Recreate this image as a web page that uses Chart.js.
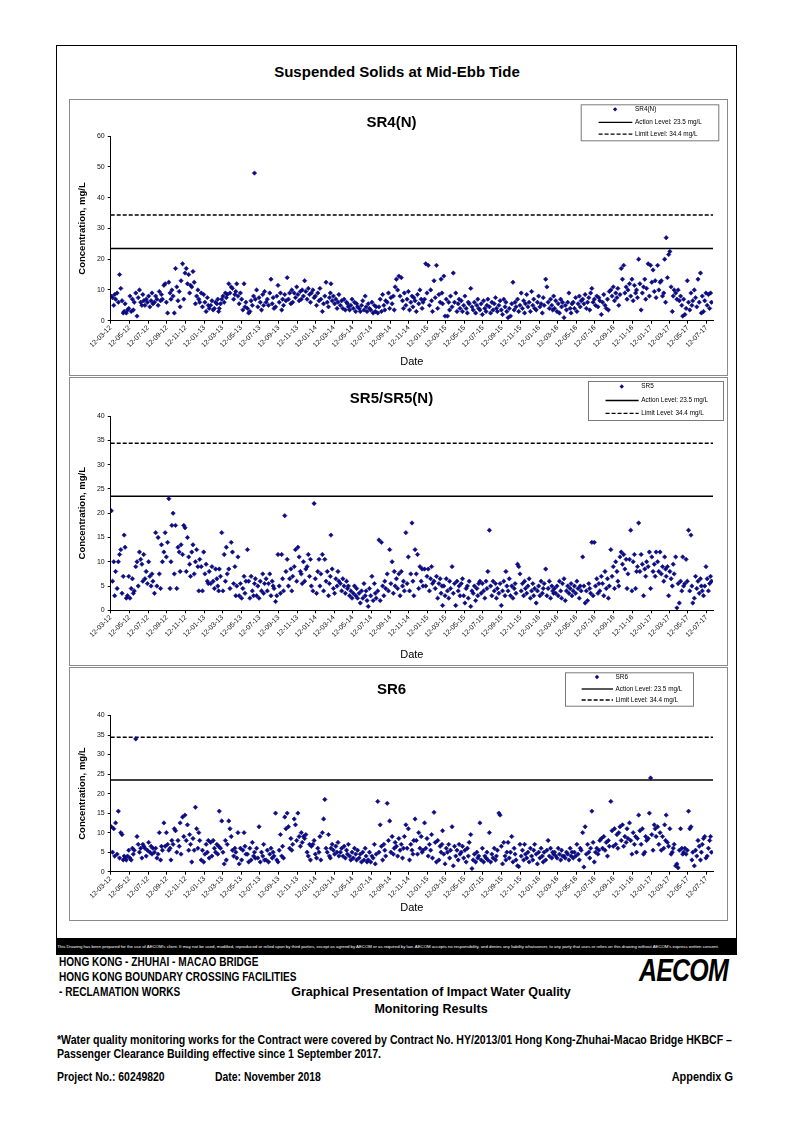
<!DOCTYPE html>
<html>
<head>
<meta charset="utf-8">
<script src="https://cdn.jsdelivr.net/npm/chart.js@4.4.0/dist/chart.umd.min.js"></script>
<style>
  body { margin: 0; background: #fff; }
  #page { position: relative; width: 794px; height: 1123px; font-family: "Liberation Sans", Arial, sans-serif; color: #000; overflow: hidden; }
  .abs { position: absolute; white-space: nowrap; }
  #frame { position: absolute; left: 56px; top: 44.5px; width: 680.5px; height: 910px; border: 1.5px solid #000; box-sizing: border-box; }
  .box { position: absolute; left: 69px; width: 659px; border: 1px solid #8a8a8a; box-sizing: border-box; background: #fff; }
  .box canvas { display: block; }
  /* condensed bold lettering of the title block */
  .narrow { font-weight: bold; font-size: 12px; line-height: 14px; transform: scaleX(0.84); transform-origin: left center; }
  #band { position: absolute; left: 56px; top: 937.5px; width: 680.5px; height: 17px; background: #000; color: #fff; font-size: 4.3px; line-height: 17px; overflow: hidden; white-space: nowrap; }
</style>
</head>
<body>
<div id="page">
  <div id="frame"></div>
  <div class="abs" style="left:0;width:794px;text-align:center;top:63px;font-size:15px;line-height:18px;font-weight:bold">Suspended Solids at Mid-Ebb Tide</div>

  <div class="box" style="top:99px;height:277px"><canvas id="chartSR4" width="657" height="275"></canvas></div>
  <div class="box" style="top:377px;height:289px"><canvas id="chartSR5" width="657" height="287"></canvas></div>
  <div class="box" style="top:667px;height:254px"><canvas id="chartSR6" width="657" height="252"></canvas></div>

  <div id="band">&nbsp;This Drawing has been prepared for the use of AECOM's client. It may not be used, modified, reproduced or relied upon by third parties, except as agreed by AECOM or as required by law. AECOM accepts no responsibility, and denies any liability whatsoever, to any party that uses or relies on this drawing without AECOM's express written consent.</div>

  <div class="abs narrow" style="left:59px;top:955px">HONG KONG - ZHUHAI - MACAO BRIDGE</div>
  <div class="abs narrow" style="left:59px;top:970px">HONG KONG BOUNDARY CROSSING FACILITIES</div>
  <div class="abs narrow" style="left:59px;top:985px">- RECLAMATION WORKS</div>
  <div class="abs" style="left:231px;width:400px;text-align:center;top:985px;font-size:12.5px;line-height:15px;font-weight:bold">Graphical Presentation of Impact Water Quality</div>
  <div class="abs" style="left:231px;width:400px;text-align:center;top:1001.5px;font-size:12.5px;line-height:15px;font-weight:bold">Monitoring Results</div>
  <div class="abs" style="left:639px;top:954px;font-size:32px;line-height:32px;font-weight:bold;font-style:italic;transform:scaleX(0.78);transform-origin:left top;letter-spacing:-1px">AECOM</div>

  <div class="abs narrow" style="left:57px;top:1032.5px;font-size:12.6px">*Water quality monitoring works for the Contract were covered by Contract No. HY/2013/01 Hong Kong-Zhuhai-Macao Bridge HKBCF –</div>
  <div class="abs narrow" style="left:57px;top:1047px;font-size:12.6px">Passenger Clearance Building effective since 1 September 2017.</div>

  <div class="abs narrow" style="left:57px;top:1070px;font-size:12.4px">Project No.: 60249820</div>
  <div class="abs narrow" style="left:215px;top:1070px;font-size:12.4px">Date: November 2018</div>
  <div class="abs narrow" style="right:61px;top:1070px;font-size:13px;transform-origin:right center">Appendix G</div>
</div>

<script>
// sampling months (one row of values per month in the station arrays below)
const months = [
  '2012-03', '2012-04', '2012-05', '2012-06', '2012-07', '2012-08', '2012-09', '2012-10', '2012-11', '2012-12',
  '2013-01', '2013-02', '2013-03', '2013-04', '2013-05', '2013-06', '2013-07', '2013-08', '2013-09', '2013-10', '2013-11', '2013-12',
  '2014-01', '2014-02', '2014-03', '2014-04', '2014-05', '2014-06', '2014-07', '2014-08', '2014-09', '2014-10', '2014-11', '2014-12',
  '2015-01', '2015-02', '2015-03', '2015-04', '2015-05', '2015-06', '2015-07', '2015-08', '2015-09', '2015-10', '2015-11', '2015-12',
  '2016-01', '2016-02', '2016-03', '2016-04', '2016-05', '2016-06', '2016-07', '2016-08', '2016-09', '2016-10', '2016-11', '2016-12',
  '2017-01', '2017-02', '2017-03', '2017-04', '2017-05', '2017-06', '2017-07'
];
// day of month of each sample within a row
const sampleDays = [2, 6, 10, 14, 18, 22, 25, 28];

const tickLabels = [
  '12-03-12', '12-05-12', '12-07-12', '12-09-12', '12-11-12', '12-01-13', '12-03-13', '12-05-13', '12-07-13',
  '12-09-13', '12-11-13', '12-01-14', '12-03-14', '12-05-14', '12-07-14', '12-09-14', '12-11-14', '12-01-15',
  '12-03-15', '12-05-15', '12-07-15', '12-09-15', '12-11-15', '12-01-16', '12-03-16', '12-05-16', '12-07-16',
  '12-09-16', '12-11-16', '12-01-17', '12-03-17', '12-05-17', '12-07-17'
];
const axisEndLabel = '02-08-17';

const actionLevel = 23.5;
const limitLevel = 34.4;

const sr4n = [
  [null, null, null, 8, 7.5, 5, 8.5, 7],
  [9, 6, 15, 10.5, 6.5, 2.5, 3, 5.5],
  [2.5, 3.5, 4, 8, 3, 7, 3.5, 6],
  [9, 1.5, 7.5, 10, 6, 5, 8.5, 6.5],
  [5, 7, 6, 8, 4.5, 6.5, 9, 5.5],
  [6, 8, 7, 5, 9.5, 6.5, 8.5, 7],
  [11.5, 12, 6, 2.5, 12.5, 9, 7, 10],
  [8, 2.5, 17, 11, 6.5, 9.5, 4.5, 13],
  [18.5, 7, 15.5, 17, 12, 15, 9, 11.5],
  [11, 16, 12.5, 5.5, 8, 10, 7, 6],
  [9, 4.5, 8.5, 6, 3, 7.5, 5, 4],
  [5, 6.5, 3.5, 4, 6, 5.5, 7, 3],
  [4, 5.5, 7, 8, 6, 9, 7.5, 8.5],
  [12, 9, 11, 10.5, 7, 8.5, 9.5, 12],
  [8, 5.5, 9, 7, 3.5, 12, 4.5, 6],
  [4, 2.5, 3, 6.5, 5, 8, 48, 7],
  [10, 4.5, 7.5, 6, 3.5, 8.5, 5, 9.5],
  [6, 7, 5, 9, 13.5, 5.5, 7.5, 4],
  [4.5, 8, 11.5, 6, 9, 3.5, 7, 5],
  [8.5, 6.5, 14, 7, 9, 5.5, 10, 6],
  [9, 7.5, 11, 8.5, 6.5, 9.5, 7, 10],
  [8, 13, 9.5, 7, 10.5, 8.5, 6, 9],
  [10, 7.5, 8, 5, 9, 6.5, 10.5, 7],
  [3, 5.5, 8, 12.5, 6, 4.5, 7.5, 9],
  [12, 6.5, 8, 5.5, 7, 4, 6, 8.5],
  [5, 6.5, 4, 7, 3.5, 6, 5.5, 4.5],
  [3.5, 5, 7, 4, 6, 3, 5.5, 4.5],
  [4, 3, 5, 6.5, 3.5, 8, 4.5, 3],
  [5.5, 4, 3.5, 6, 2.5, 5, 3, 4.5],
  [2.5, 4.5, 7, 3, 8.5, 5, 3.5, 6.5],
  [6, 9, 4, 7.5, 5.5, 8, 3.5, 11],
  [13.5, 10, 14.5, 8, 14, 6.5, 4, 9],
  [5, 7, 9.5, 3.5, 6, 8, 4.5, 7.5],
  [6.5, 3, 8.5, 5.5, 10, 7, 4, 6],
  [7, 18.5, 9, 18, 5, 10, 6.5, 3],
  [13, 7.5, 18, 4, 8.5, 6, 13.5, 9],
  [5.5, 14.5, 1.5, 7, 1.5, 6, 3.5, 8],
  [4.5, 15.5, 6, 9, 3, 5.5, 7, 4],
  [6.5, 3, 5, 8, 4, 2.5, 6, 5.5],
  [10.5, 4.5, 3.5, 6, 2.5, 5, 7, 4],
  [3.5, 5.5, 2, 6.5, 4, 3, 5, 7],
  [4.5, 2.5, 6, 3.5, 5.5, 7.5, 4, 3],
  [5, 6.5, 3.5, 2, 7, 4.5, 6, 3],
  [1, 4, 1.5, 5.5, 12.5, 3.5, 6, 4.5],
  [7, 3, 5, 9, 4, 6.5, 2.5, 5.5],
  [8.5, 4.5, 6, 3, 9.5, 5, 7, 4],
  [3.5, 6, 8, 4.5, 5.5, 2.5, 7.5, 5],
  [13.5, 11, 6, 4, 7, 5, 3.5, 8],
  [4, 6.5, 3, 5.5, 2.5, 7, 4.5, 6],
  [1, 5, 3.5, 6, 9, 4, 2.5, 5.5],
  [6, 4, 7.5, 3, 5.5, 8, 4.5, 6.5],
  [7, 5.5, 8.5, 4, 6, 7.5, 3.5, 9],
  [10.5, 6, 7, 5, 8, 4.5, 7.5, 6.5],
  [2, 6, 8.5, 5, 4, 7, 3.5, 9.5],
  [10, 8, 11, 6.5, 9, 7.5, 10.5, 5],
  [8.5, 17, 13.5, 18, 9, 11, 7, 10],
  [12, 8, 13.5, 6.5, 11.5, 9, 10, 7.5],
  [20, 12, 3.5, 9, 11, 13.5, 7, 10.5],
  [18.5, 8, 18, 12.5, 16.5, 9.5, 13, 7.5],
  [18, 10, 12.5, 13, 8, 9, 20, 6],
  [27, 14, 21.5, 22.5, 11, 3, 8, 10],
  [9, 7, 10, 6.5, 8, 5, 1.5, 7],
  [2, 4, 13, 6, 3.5, 9, 5, 6.5],
  [10, 7.5, 4.5, 13.5, 6, 15.5, 2.5, 8],
  [3, 6.5, 9, 5, 8.5, 4, 9, 6]
];

const sr5 = [
  [null, null, null, 20.5, 6, 10, 3, 8],
  [4.5, 10, 11.5, 12.5, 3.5, 7, 15.5, 13],
  [2.5, 3, 7, 2.5, 4.5, 6.5, 3.5, 4],
  [9, 10, 5, 12, 10.5, 9.5, 6, 11.5],
  [6.5, 8, 5.5, 10, 7, 5, 7.5, 6],
  [3.5, 16, 5, 15, 7.5, 4.5, 13.5, 10],
  [12, 16, 11, 14, 23, 4.5, 10, 17.5],
  [20, 7.5, 17.5, 4.5, 13, 12, 8, 13.5],
  [11.5, 17.5, 17, 8, 15, 11, 9.5, 7],
  [12, 13.5, 7.5, 10, 12.5, 9, 4, 10.5],
  [9, 4, 12, 7.5, 9.5, 6, 5.5, 8],
  [5.5, 9, 6, 4.5, 8.5, 6.5, 5, 4],
  [8.5, 7, 16, 4, 11.5, 6, 13, 7.5],
  [8.5, 4.5, 14, 12, 5.5, 9, 3, 5],
  [11, 3, 5.5, 2.5, 4.5, 7, 3.5, 6],
  [12.5, 6, 2.5, 7, 4, 3, 5.5, 6.5],
  [3, 5, 2.5, 6, 4, 7.5, 3.5, 5.5],
  [6.5, 4, 5.5, 7.5, 3, 6, 5, 4.5],
  [1.8, 3, 11.5, 5, 3.5, 11.5, 6.5, 4],
  [19.5, 8, 10.5, 5, 6.5, 8.5, 4, 7],
  [9, 12.5, 6, 13, 11, 8, 7.5, 5.5],
  [10, 6, 8.5, 9, 11.5, 7, 10.5, 5],
  [4, 22, 6.5, 3.5, 8, 10.5, 5, 7.5],
  [11.5, 4, 10.5, 6, 8, 3, 5.5, 7],
  [15.5, 8.5, 4.5, 3.5, 6.5, 5, 8, 6],
  [5.5, 4, 6.5, 5, 3.5, 6, 4.5, 5],
  [3, 4, 2.5, 3.5, 5, 3, 4.5, 2.5],
  [3.5, 1.5, 4, 2.5, 5.5, 3, 4, 2],
  [0.8, 4.5, 3, 7, 2, 5.5, 3.5, 2.5],
  [4, 14.5, 2, 14, 5, 3, 6, 4.5],
  [7.5, 4, 12.5, 5.5, 10, 3.5, 8, 5],
  [6.5, 4.5, 7.5, 3, 8, 5, 6, 4],
  [16, 5.5, 11, 4, 7.5, 18, 6, 3],
  [12.5, 7.5, 11.5, 4.5, 9, 6, 8.5, 5],
  [8.5, 5, 7, 8.5, 4, 6.5, 9, 5.5],
  [6, 4.5, 7, 2.5, 5.5, 6.5, 3.5, 5],
  [1, 5, 3, 6.5, 4, 2.5, 6, 4.5],
  [9, 3.5, 5.5, 1, 6, 4, 5, 3],
  [5.5, 6.5, 3, 1.5, 4.5, 5, 2.5, 6],
  [0.8, 4, 3.5, 5, 2, 4.5, 3, 5.5],
  [6, 3.5, 5.5, 4, 2.5, 6, 4.5, 8],
  [16.5, 5, 3, 6, 4, 5.5, 2.5, 4.5],
  [3.5, 5.5, 1, 4, 6, 3, 8, 5],
  [4, 6.5, 3, 5, 2.5, 4.5, 5.5, 3.5],
  [9.5, 9, 7.5, 4, 5.5, 3, 6, 4.5],
  [3.5, 5, 6.5, 2.5, 4, 5.5, 3, 4.5],
  [1.5, 4, 5, 3, 6, 3.5, 4.5, 5.5],
  [8.5, 3, 4.5, 6, 2.5, 5, 4, 3.5],
  [4.5, 3.5, 5, 3, 6, 4, 2.5, 5.5],
  [6.5, 2, 4, 5, 3.5, 4.5, 5.5, 3],
  [4, 5, 3.5, 6, 4.5, 2.5, 5, 4],
  [11, 5, 1.5, 4, 2, 5.5, 4.5, 3.5],
  [14, 3, 14, 5, 6.5, 3.5, 5.5, 4],
  [7, 5.5, 3, 8, 4.5, 6.5, 2.5, 5],
  [12.5, 7, 9, 4.5, 10, 8, 6, 5],
  [11, 12, 9.5, 11.5, 8.5, 10.5, 4.5, 7.5],
  [10.5, 16.5, 4, 10, 11.5, 4.5, 8, 9],
  [18, 8, 11.5, 9.5, 3, 8.5, 7, 10],
  [9, 12, 4.5, 11, 8, 9.5, 7, 12],
  [10, 8, 12, 7.5, 9, 6, 11, 8.5],
  [7, 9, 3, 8, 6.5, 5, 9.5, 7.5],
  [11, 0.5, 5.5, 1.5, 6, 4, 11, 5],
  [5.5, 10.5, 6, 16.5, 4, 15.5, 5, 1.5],
  [2.5, 7, 4.5, 6, 3.5, 6.5, 5, 4],
  [3, 5, 9, 6.5, 4, 5.5, 7, 6]
];

const sr6 = [
  [null, null, null, 11.5, 5, 11, 4, 12.5],
  [4.5, 15.5, 3.5, 10, 9.5, 3, 4, 3.5],
  [3, 4, 5.5, 3.5, 3, 6, 4.5, 5.5],
  [34, 9, 7, 5, 6, 3.5, 7, 6.5],
  [6, 4, 5.5, 7.5, 5, 6.5, 4.5, 6],
  [5, 6, 3.5, 4.5, 10, 3, 6.5, 5.5],
  [12.5, 6.5, 10, 7, 5.5, 6, 3, 8],
  [7, 11, 10.5, 5, 8, 6.5, 12.5, 4.5],
  [14, 9, 14.5, 8, 12, 5.5, 9.5, 7],
  [2.5, 8.5, 5.5, 16.5, 11, 6, 10, 8],
  [3, 5.5, 2.5, 4.5, 7, 5, 8, 3.5],
  [7.5, 4, 8, 6, 5, 7, 4.5, 6.5],
  [15.5, 6, 13, 5, 2, 8, 3, 7],
  [13, 11, 9, 5.5, 4, 6, 5, 3.5],
  [10, 2, 6, 3, 5.5, 10, 6.5, 4.5],
  [4.5, 2.5, 6, 3, 7.5, 4, 5, 3.5],
  [6, 3.5, 11.5, 2.5, 5, 4, 7, 3],
  [3, 5.5, 2.5, 4.5, 6, 3.5, 5, 4],
  [15, 3, 2.5, 5.5, 9.5, 4, 6.5, 3.5],
  [14, 11, 15, 11.5, 6, 8.5, 5.5, 7],
  [13.5, 12, 8, 15, 9, 6.5, 10, 7.5],
  [9, 8.5, 9.5, 5, 4, 7, 3, 6.5],
  [7, 8, 4.5, 3.5, 6, 5, 9, 3],
  [10, 13.5, 18.5, 6, 5, 9.5, 4, 3.5],
  [6, 7, 5.5, 4.5, 6.5, 5, 7.5, 4],
  [5, 6, 4, 6.5, 3.5, 5.5, 4.5, 7],
  [4, 3, 5, 3.5, 6, 4.5, 3, 5.5],
  [3.5, 4.5, 2.5, 5, 3, 6, 4, 2.5],
  [3, 5, 2.5, 4, 3.5, 7, 2, 4.5],
  [18, 5, 12, 6.5, 3, 7, 5.5, 4],
  [17.5, 8, 13, 5, 9, 4.5, 6, 7.5],
  [6.5, 4, 8.5, 5.5, 7, 3.5, 6, 9],
  [12, 6, 11, 3, 7, 5.5, 4.5, 8],
  [13.5, 8, 4.5, 10, 6, 9, 5, 5.5],
  [12.5, 6, 8.5, 4, 7, 5.5, 9.5, 3.5],
  [15.2, 7.5, 2.5, 8, 3, 6.5, 5, 7],
  [10.5, 4.5, 2, 6, 5, 7, 3.5, 5.5],
  [11.5, 1.5, 6.5, 4, 5.5, 3, 7, 4.5],
  [5, 6.5, 3.5, 5.5, 2.5, 6, 4, 7.5],
  [9.5, 0.8, 3, 4.5, 2.5, 5, 3.5, 4],
  [12.5, 3, 6, 2.5, 4, 3.5, 5, 3],
  [10, 2.5, 4.5, 3.5, 6, 3, 4, 5.5],
  [15, 14.5, 6.5, 2, 7.5, 4, 3, 5],
  [7.5, 3.5, 5, 9, 2.5, 6, 4.5, 3],
  [1.5, 1.3, 7, 4, 5.5, 3, 7, 4.5],
  [3.5, 5, 2.5, 6, 4, 3, 5.5, 7],
  [4.5, 2, 5, 3.5, 6, 4, 2.5, 5],
  [3, 5.5, 8, 4, 6, 3.5, 5, 4.5],
  [5, 4, 3.5, 6, 4.5, 3, 5.5, 4],
  [4, 3.5, 5, 4.5, 3, 6, 4, 5],
  [3.5, 5, 4, 7, 4.5, 3, 6, 5.5],
  [10, 1.2, 11.5, 4.5, 7, 5, 3.5, 6],
  [15.5, 7.5, 2.5, 5, 6, 4.5, 5.5, 8],
  [8.5, 6, 9, 5.5, 7.5, 4, 8, 6.5],
  [18, 10.5, 6.5, 11, 7, 9.5, 6, 10],
  [11.5, 8, 12, 6.5, 9, 7.5, 11, 8.5],
  [12.5, 8, 4.5, 10, 7, 9, 5, 8.5],
  [14.5, 10.5, 7, 11, 4.5, 5, 9, 8],
  [8.5, 15, 24, 9.5, 5.5, 12, 11, 9],
  [11.5, 7, 10, 5.5, 9, 6, 12, 8],
  [14.5, 7.5, 6.5, 11, 4.5, 5, 6, 7],
  [1.5, 2, 1, 5.5, 11, 6, 4.5, 5],
  [6, 4.5, 5.5, 15.5, 11, 11.5, 3, 5],
  [1.5, 5.5, 4, 8, 6.5, 3, 5, 7],
  [8.5, 9, 3.5, 4, 6, 8, 9, 5]
];

const DAY = 86400000;
const navy = '#0c0c82';
Chart.defaults.font.family = '"Liberation Sans", Arial, sans-serif';
Chart.defaults.color = '#000';

function dayOf(y, m, d) {
  return Date.UTC(y, m - 1, d) / DAY;
}

function labelDay(label) {
  const [d, m, y] = label.split('-').map(Number);
  return dayOf(2000 + y, m, d);
}

function toPoints(rows) {
  const pts = [];
  rows.forEach((row, i) => {
    const [y, m] = months[i].split('-').map(Number);
    row.forEach((v, j) => {
      if (v !== null) pts.push({ x: dayOf(y, m, sampleDays[j]), y: v });
    });
  });
  return pts;
}

// legend in a bordered box at the top right, like the spreadsheet original
const boxLegend = {
  id: 'boxLegend',
  afterDraw(chart, args, opts) {
    const ctx = chart.ctx;
    const { x, y, w, h } = opts;
    ctx.save();
    ctx.fillStyle = '#fff';
    ctx.fillRect(x, y, w, h);
    ctx.strokeStyle = '#7a7a7a';
    ctx.lineWidth = 1;
    ctx.strokeRect(x + 0.5, y + 0.5, w, h);
    const rowY = [0.14, 0.5, 0.83].map(f => y + f * h);
    ctx.font = '6.4px "Liberation Sans", Arial, sans-serif';
    ctx.textBaseline = 'middle';
    chart.data.datasets.forEach((ds, i) => {
      const ry = rowY[i];
      if (!ds.showLine) {
        const cx = x + 0.25 * w, r = 2.2;
        ctx.fillStyle = navy;
        ctx.beginPath();
        ctx.moveTo(cx, ry - r); ctx.lineTo(cx + r, ry); ctx.lineTo(cx, ry + r); ctx.lineTo(cx - r, ry);
        ctx.closePath();
        ctx.fill();
      } else {
        ctx.strokeStyle = '#000';
        ctx.lineWidth = 1.3;
        ctx.setLineDash(ds.borderDash || []);
        ctx.beginPath();
        ctx.moveTo(x + 0.13 * w, ry); ctx.lineTo(x + 0.375 * w, ry);
        ctx.stroke();
        ctx.setLineDash([]);
      }
      ctx.fillStyle = '#000';
      ctx.fillText(ds.label, x + 0.395 * w, ry);
    });
    ctx.restore();
  }
};

function drawStationChart(canvasId, station, rows, cfg) {
  const xMin = labelDay(tickLabels[0]);
  const xMax = labelDay(axisEndLabel);
  const ctx = document.getElementById(canvasId).getContext('2d');
  return new Chart(ctx, {
    type: 'scatter',
    plugins: [boxLegend],
    data: {
      datasets: [
        { label: station, data: toPoints(rows), showLine: false, pointStyle: 'rectRot', pointRadius: 2.2, pointBorderWidth: 0.6,
          backgroundColor: navy, borderColor: navy },
        { label: 'Action Level: ' + actionLevel + ' mg/L', data: [{ x: xMin, y: actionLevel }, { x: xMax, y: actionLevel }],
          showLine: true, borderColor: '#000', borderWidth: 1.5, pointRadius: 0 },
        { label: 'Limit Level: ' + limitLevel + ' mg/L', data: [{ x: xMin, y: limitLevel }, { x: xMax, y: limitLevel }],
          showLine: true, borderColor: '#000', borderWidth: 1.5, borderDash: [4, 2], pointRadius: 0 }
      ]
    },
    options: {
      responsive: false,
      animation: false,
      layout: { padding: { left: 0, right: 14, top: 0, bottom: 0 } },
      plugins: {
        legend: { display: false },
        tooltip: { enabled: false },
        title: { display: true, text: cfg.title, color: '#000', font: { size: 15, weight: 'bold' },
          padding: { top: cfg.titleTop, bottom: cfg.titleBottom } },
        boxLegend: cfg.legend
      },
      scales: {
        x: {
          type: 'linear', min: xMin, max: xMax,
          afterBuildTicks: scale => { scale.ticks = tickLabels.map(l => ({ value: labelDay(l) })); },
          afterFit: scale => { scale.height = cfg.xHeight; },
          ticks: { autoSkip: false, minRotation: 45, maxRotation: 45, padding: 0, color: '#111', font: { size: 7 },
            callback: (value, index) => tickLabels[index] },
          grid: { drawOnChartArea: false, drawTicks: true, tickLength: 3, color: '#000' },
          border: { color: '#000', width: 1 },
          title: { display: true, text: 'Date', color: '#000', font: { size: 11 }, padding: { top: 0, bottom: cfg.datePad } }
        },
        y: {
          min: 0, max: cfg.yMax,
          afterFit: scale => { scale.width = 40.7; },
          ticks: { stepSize: cfg.yStep, padding: 3, color: '#111', font: { size: 7 } },
          grid: { drawOnChartArea: false, drawTicks: true, tickLength: 3, color: '#000' },
          border: { color: '#000', width: 1 },
          title: { display: true, text: 'Concentration, mg/L', color: '#000', font: { size: 9.5, weight: 'bold' },
            padding: { top: 6.3, bottom: 0 } }
        }
      }
    }
  });
}

drawStationChart('chartSR4', 'SR4(N)', sr4n, {
  title: 'SR4(N)', titleTop: 14, titleBottom: 4.2, yMax: 60, yStep: 10, xHeight: 54.3, datePad: 6.7,
  legend: { x: 510.7, y: 4.3, w: 137.6, h: 36 }
});
drawStationChart('chartSR5', 'SR5', sr5, {
  title: 'SR5/SR5(N)', titleTop: 11.6, titleBottom: 8.6, yMax: 40, yStep: 5, xHeight: 54.7, datePad: 3.4,
  legend: { x: 518, y: 3, w: 135, h: 39 }
});
drawStationChart('chartSR6', 'SR6', sr6, {
  title: 'SR6', titleTop: 12.6, titleBottom: 16.9, yMax: 40, yStep: 5, xHeight: 48.3, datePad: 5.1,
  legend: { x: 495, y: 4.3, w: 128, h: 33.4 }
});
</script>
</body>
</html>
